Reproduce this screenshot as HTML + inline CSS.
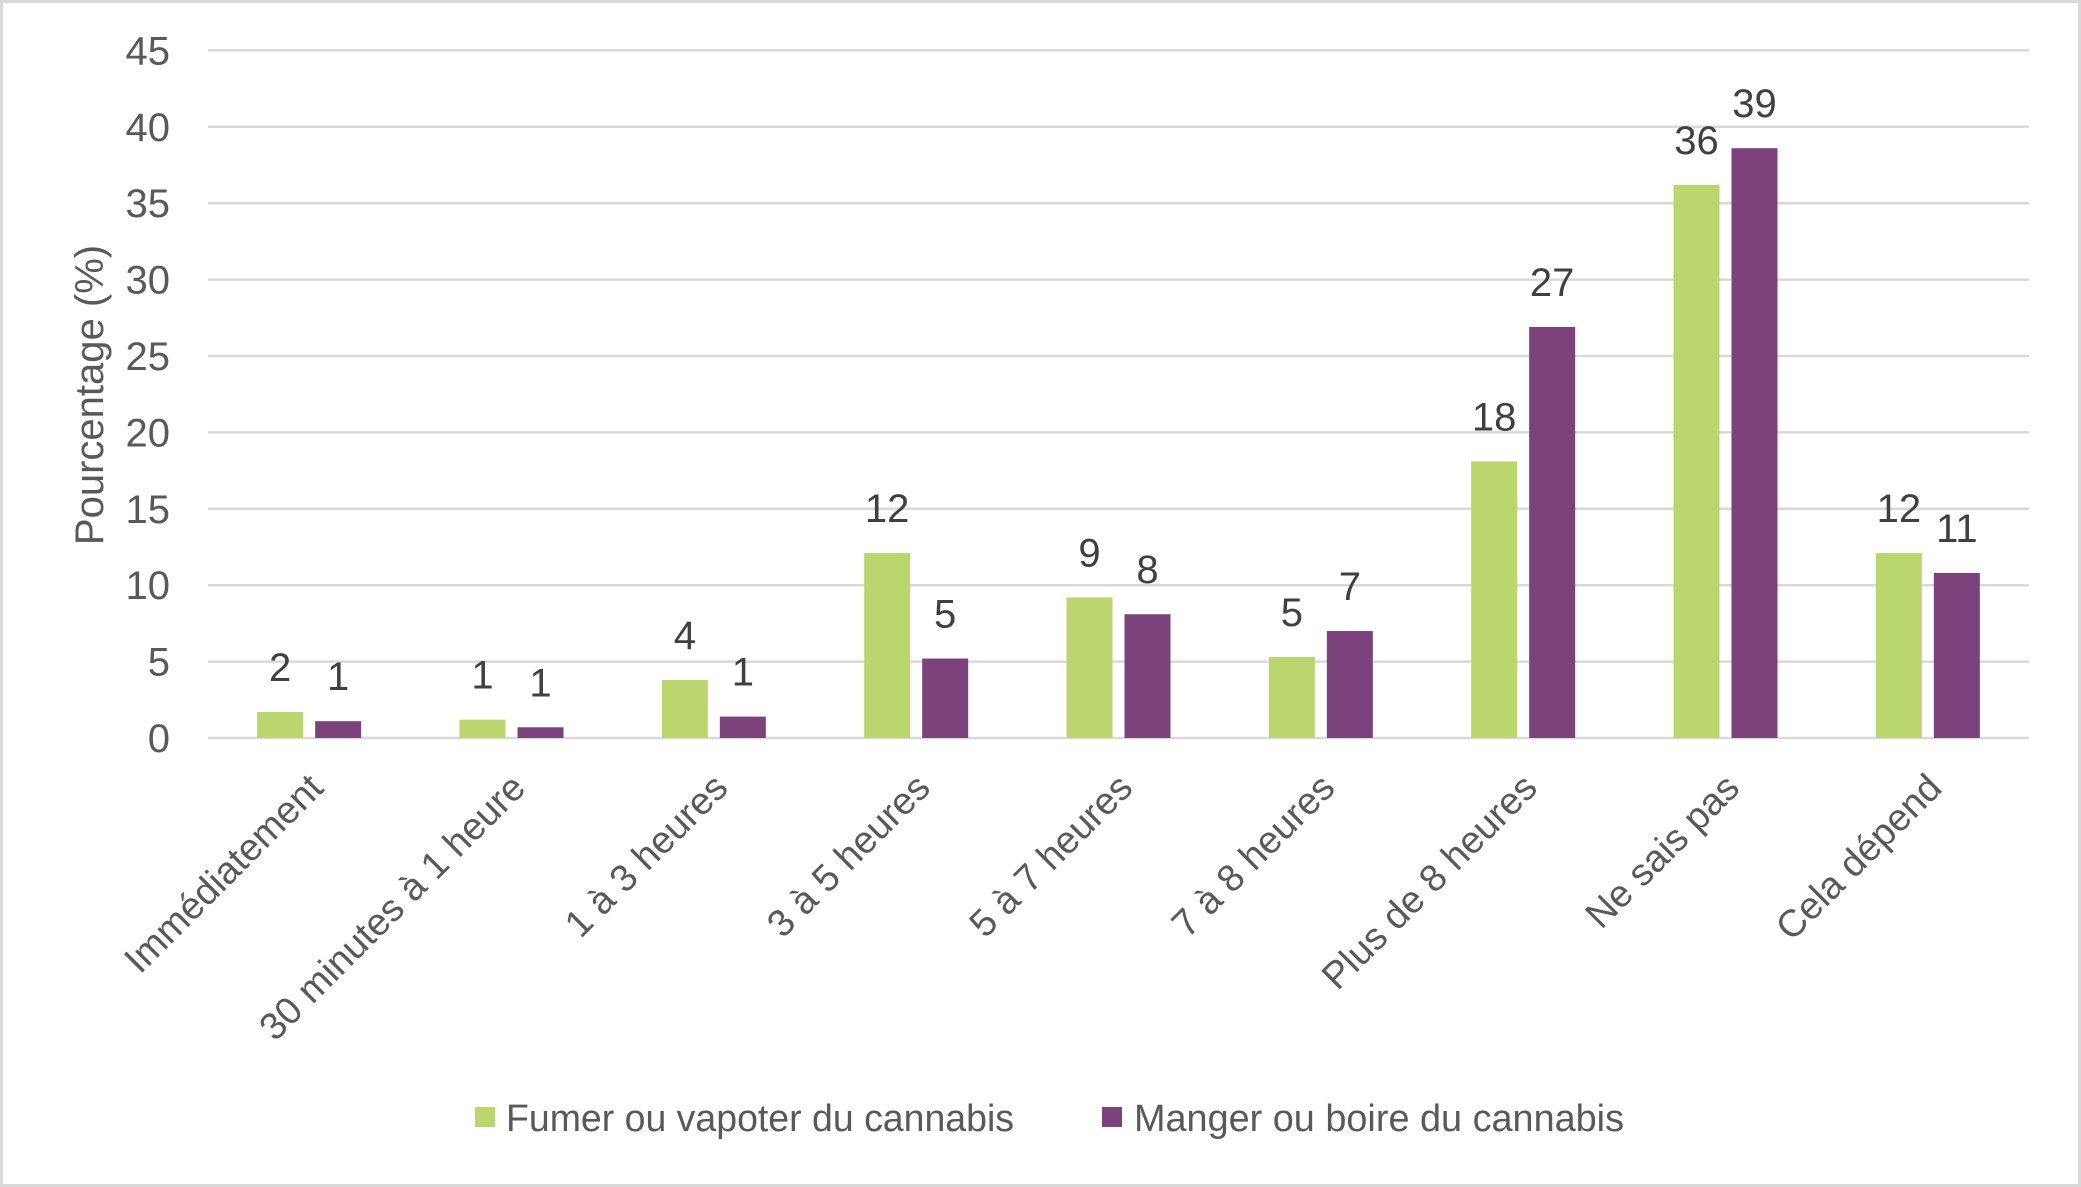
<!DOCTYPE html>
<html><head><meta charset="utf-8"><style>
html,body{margin:0;padding:0;background:#fff;}
svg{display:block;font-family:"Liberation Sans",sans-serif;}
</style></head><body>
<svg id="chart" width="2081" height="1187" viewBox="0 0 2081 1187">
<rect x="1.5" y="1.5" width="2078" height="1184" fill="#fff" stroke="#d9d9d9" stroke-width="3"/>
<g id="grid"></g><g id="bars"></g><g id="labels"></g><g id="xlabels"></g>
<text x="0" y="0" transform="translate(103,395) rotate(-90)" text-anchor="middle" font-size="40" fill="#595959">Pourcentage (%)</text>
<g>
<rect x="475" y="1107" width="20" height="20" fill="#bbd66f"/>
<text x="506" y="1131" font-size="38" fill="#595959" textLength="508" lengthAdjust="spacingAndGlyphs">Fumer ou vapoter du cannabis</text>
<rect x="1102" y="1107" width="20" height="20" fill="#7b427c"/>
<text x="1134" y="1131" font-size="38" fill="#595959" textLength="490" lengthAdjust="spacingAndGlyphs">Manger ou boire du cannabis</text>
</g>
</svg>
<script>
const categories = ["Immédiatement","30 minutes à 1 heure","1 à 3 heures","3 à 5 heures","5 à 7 heures","7 à 8 heures","Plus de 8 heures","Ne sais pas","Cela dépend"];
const fumerValues = [1.7,1.2,3.8,12.1,9.2,5.3,18.1,36.2,12.1];
const mangerValues = [1.1,0.7,1.4,5.2,8.1,7.0,26.9,38.6,10.8];
const fumerLabels = ["2","1","4","12","9","5","18","36","12"];
const mangerLabels = ["1","1","1","5","8","7","27","39","11"];
const yTicks = [0,5,10,15,20,25,30,35,40,45];

const NS="http://www.w3.org/2000/svg";
const plotLeft=208,plotRight=2029,plotTop=50.4,plotBottom=738,yMax=45;
const yScale=v=>plotBottom-(v/yMax)*(plotBottom-plotTop);
const band=(plotRight-plotLeft)/categories.length;
const xCenter=i=>plotLeft+band*(i+0.5);
function mk(tag,attrs,parent,txt){const e=document.createElementNS(NS,tag);for(const k in attrs)e.setAttribute(k,attrs[k]);if(txt!==undefined)e.textContent=txt;parent.appendChild(e);return e;}
const grid=document.getElementById('grid'),bars=document.getElementById('bars'),labels=document.getElementById('labels'),xl=document.getElementById('xlabels');
yTicks.forEach(t=>{
  const l=mk('line',{x1:plotLeft,x2:plotRight,y1:yScale(t),y2:yScale(t),stroke:'#d9d9d9','stroke-width':2.5},grid);
  
  
  const tx=mk('text',{x:170,y:yScale(t)+14,'text-anchor':'end','font-size':40,fill:'#595959'},grid,String(t));
  
  
});
const bw=46,gap=12;
categories.forEach((c,i)=>{
  const cx=xCenter(i);
  const gx=cx-gap/2-bw, px=cx+gap/2;
  const g=mk('rect',{x:gx,y:yScale(fumerValues[i]),width:bw,height:plotBottom-yScale(fumerValues[i]),fill:'#bbd66f'},bars);
  
  
  const p=mk('rect',{x:px,y:yScale(mangerValues[i]),width:bw,height:plotBottom-yScale(mangerValues[i]),fill:'#7b427c'},bars);
  
  
  const a=mk('text',{x:gx+bw/2,y:yScale(fumerValues[i])-31,'text-anchor':'middle','font-size':40,fill:'#404040'},labels,fumerLabels[i]);
  
  
  const b=mk('text',{x:px+bw/2,y:yScale(mangerValues[i])-31,'text-anchor':'middle','font-size':40,fill:'#404040'},labels,mangerLabels[i]);
  
  
  const t=mk('text',{x:0,y:0,transform:`translate(${cx+16},${plotBottom+52}) rotate(-45)`,'text-anchor':'end','font-size':38,fill:'#595959'},xl,c);
  
  
});
</script>
</body></html>
